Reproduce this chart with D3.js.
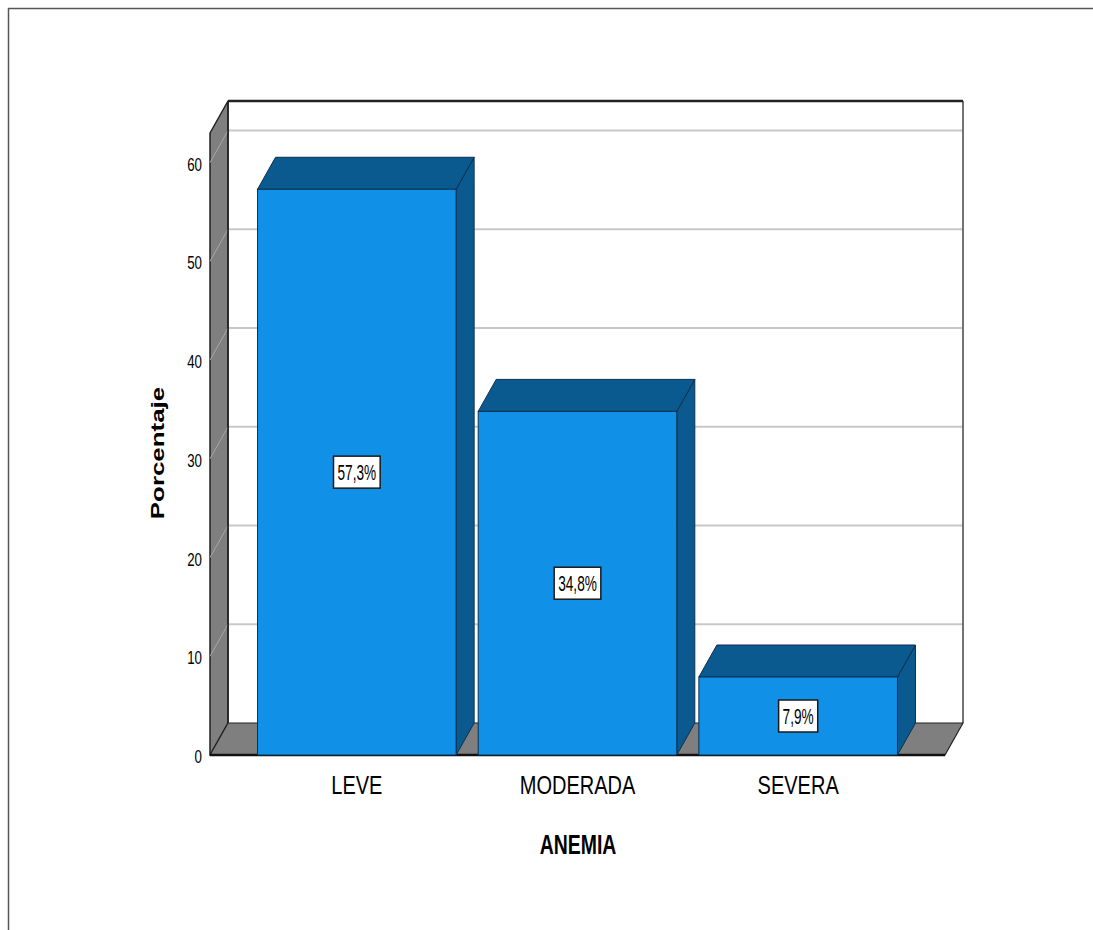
<!DOCTYPE html>
<html>
<head>
<meta charset="utf-8">
<script src="https://cdn.jsdelivr.net/npm/d3@7"></script>
<style>
  html, body { margin: 0; padding: 0; background: #fff; }
  svg { display: block; }
  text { font-family: "Liberation Sans", Arial, sans-serif; fill: #000; }
</style>
</head>
<body>
<svg id="chart" width="1093" height="930"></svg>
<script>
// Anemia severity distribution (percent of cases)
const categories = ["LEVE", "MODERADA", "SEVERA"];
const percentages = [57.3, 34.8, 7.9];
const yTicks = [0, 10, 20, 30, 40, 50, 60];
const xTitle = "ANEMIA";
const yTitle = "Porcentaje";

const W = 1093, H = 930;
const svg = d3.select("#chart");

// Depth offset used for the pseudo-3D look
const DX = 18, DY = -32;

const y = d3.scaleLinear().domain([0, 63]).range([755, 133]);
const x = d3.scaleBand().domain(categories)
  .range([246.5, 908.5]).paddingInner(0.1).paddingOuter(0.05);

const plotLeft = 210, plotRight = 945;
const y0 = y(0), yTop = y(63);

const esLocale = d3.formatLocale({ decimal: ",", thousands: ".", grouping: [3], currency: ["", "€"] });
const fmt = esLocale.format(".1f");

// Outer frame
svg.append("line").attr("x1", 8).attr("x2", W).attr("y1", 8.5).attr("y2", 8.5)
  .attr("stroke", "#555").attr("stroke-width", 1.5);
svg.append("line").attr("x1", 8.5).attr("x2", 8.5).attr("y1", 8).attr("y2", H)
  .attr("stroke", "#555").attr("stroke-width", 1.5);

const g = svg.append("g");

// Back wall
g.append("rect")
  .attr("x", plotLeft + DX).attr("y", yTop + DY)
  .attr("width", plotRight - plotLeft).attr("height", y0 - yTop)
  .attr("fill", "#fff");

// Grid lines on the back wall
g.selectAll("line.grid").data(yTicks.filter(d => d > 0)).join("line")
  .attr("class", "grid")
  .attr("x1", plotLeft + DX).attr("x2", plotRight + DX)
  .attr("y1", d => y(d) + DY).attr("y2", d => y(d) + DY)
  .attr("stroke", "#c8c8c8").attr("stroke-width", 2);

// Back wall right edge and top edge
g.append("line")
  .attr("x1", plotRight + DX).attr("x2", plotRight + DX)
  .attr("y1", yTop + DY).attr("y2", y0 + DY)
  .attr("stroke", "#444").attr("stroke-width", 1.5);
g.append("line")
  .attr("x1", plotLeft + DX).attr("x2", plotRight + DX)
  .attr("y1", yTop + DY).attr("y2", yTop + DY)
  .attr("stroke", "#222").attr("stroke-width", 2.5);

// Left side wall
const sideWall = [[plotLeft, yTop], [plotLeft + DX, yTop + DY], [plotLeft + DX, y0 + DY], [plotLeft, y0]];
g.append("polygon").attr("points", sideWall.map(p => p.join(",")).join(" "))
  .attr("fill", "#7f7f7f").attr("stroke", "#222").attr("stroke-width", 1.5)
  .attr("stroke-linejoin", "round");

// Grid lines crossing the side wall
g.selectAll("line.sgrid").data(yTicks.filter(d => d > 0)).join("line")
  .attr("class", "sgrid")
  .attr("x1", plotLeft).attr("x2", plotLeft + DX)
  .attr("y1", d => y(d)).attr("y2", d => y(d) + DY)
  .attr("stroke", "#a8a8a8").attr("stroke-width", 1);

// Floor
const floor = [[plotLeft, y0], [plotRight, y0], [plotRight + DX, y0 + DY], [plotLeft + DX, y0 + DY]];
g.append("polygon").attr("points", floor.map(p => p.join(",")).join(" "))
  .attr("fill", "#7f7f7f").attr("stroke", "#222").attr("stroke-width", 1.2)
  .attr("stroke-linejoin", "round");
g.append("line")
  .attr("x1", plotLeft).attr("x2", plotRight).attr("y1", y0).attr("y2", y0)
  .attr("stroke", "#111").attr("stroke-width", 2.5);
g.append("line")
  .attr("x1", plotLeft + DX).attr("x2", plotLeft + DX).attr("y1", yTop + DY).attr("y2", y0 + DY)
  .attr("stroke", "#222").attr("stroke-width", 1.5);

// Bars
const frontColor = "#1190e8", darkColor = "#0b5a8f", edge = "#0a3050";
const data = categories.map((c, i) => ({ cat: c, value: percentages[i] }));
const bars = g.selectAll("g.bar").data(data).join("g").attr("class", "bar");

bars.append("polygon") // side face
  .attr("points", d => {
    const x1 = x(d.cat) + x.bandwidth(), yv = y(d.value);
    return [[x1, yv], [x1 + DX, yv + DY], [x1 + DX, y0 + DY], [x1, y0]].map(p => p.join(",")).join(" ");
  })
  .attr("fill", darkColor).attr("stroke", edge).attr("stroke-width", 1).attr("stroke-linejoin", "round");

bars.append("polygon") // top face
  .attr("points", d => {
    const x0 = x(d.cat), x1 = x0 + x.bandwidth(), yv = y(d.value);
    return [[x0, yv], [x0 + DX, yv + DY], [x1 + DX, yv + DY], [x1, yv]].map(p => p.join(",")).join(" ");
  })
  .attr("fill", darkColor).attr("stroke", edge).attr("stroke-width", 1).attr("stroke-linejoin", "round");

bars.append("rect") // front face
  .attr("x", d => x(d.cat)).attr("y", d => y(d.value))
  .attr("width", x.bandwidth()).attr("height", d => y0 - y(d.value))
  .attr("fill", frontColor).attr("stroke", edge).attr("stroke-width", 1);

// Value labels
bars.each(function (d) {
  const cx = x(d.cat) + x.bandwidth() / 2;
  const cy = (y(d.value) + y0) / 2;
  const label = fmt(d.value) + "%";
  const sx = 0.62, fs = 22;
  const sel = d3.select(this);
  const t = sel.append("text")
    .attr("transform", `translate(${cx},${cy + 7.5}) scale(${sx},1)`)
    .attr("text-anchor", "middle").attr("font-size", fs).text(label);
  const w = t.node().getComputedTextLength() * sx + 8;
  sel.insert("rect", "text")
    .attr("x", cx - w / 2).attr("y", cy - 16).attr("width", w).attr("height", 32)
    .attr("fill", "#fff").attr("stroke", "#1a1a1a").attr("stroke-width", 1.5);
});

// Y tick labels
g.selectAll("text.ytick").data(yTicks).join("text")
  .attr("class", "ytick")
  .attr("transform", d => `translate(202,${y(d) + 8}) scale(0.7,1)`)
  .attr("text-anchor", "end").attr("font-size", 19).text(d => d);

// Category labels
g.selectAll("text.xtick").data(categories).join("text")
  .attr("class", "xtick")
  .attr("transform", d => `translate(${x(d) + x.bandwidth() / 2},794) scale(0.8,1)`)
  .attr("text-anchor", "middle").attr("font-size", 25).text(d => d);

// Axis titles
svg.append("text")
  .attr("transform", "translate(578,854) scale(0.72,1)")
  .attr("text-anchor", "middle").attr("font-size", 27).attr("font-weight", "bold")
  .text(xTitle);

svg.append("text")
  .attr("transform", "translate(164,453) rotate(-90) scale(1.4,1)")
  .attr("text-anchor", "middle").attr("font-size", 18.5).attr("font-weight", "bold")
  .text(yTitle);
</script>
</body>
</html>
